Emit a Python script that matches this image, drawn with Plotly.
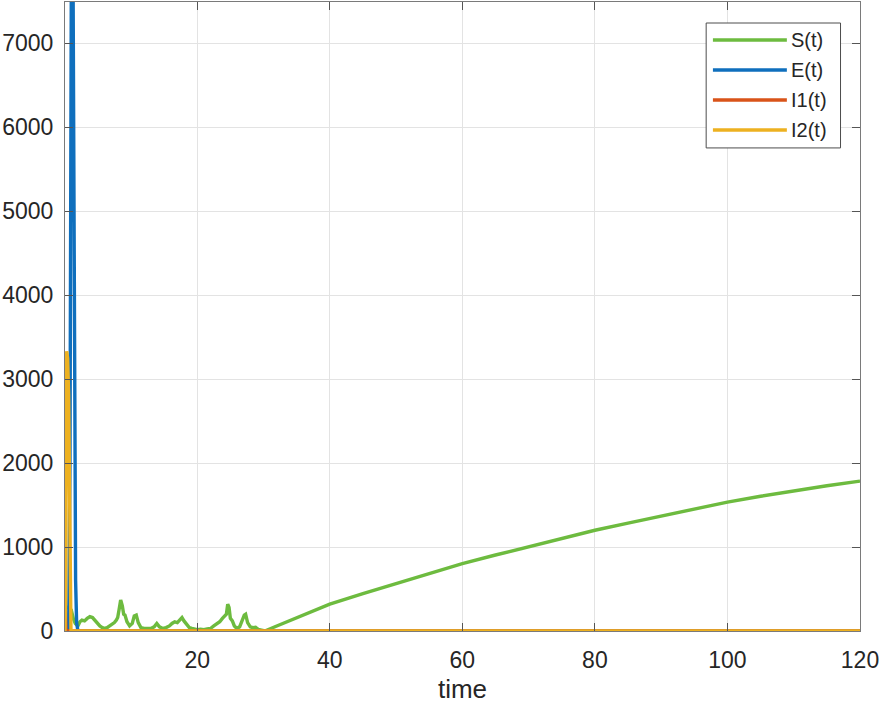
import plotly.graph_objects as go

# series names and colours (MATLAB-like palette)
names = ['S(t)', 'E(t)', 'I1(t)', 'I2(t)']
colors = ['#6dbb3f', '#0f6fbd', '#d95319', '#edb120']

# S(t): noisy phase up to t~30, then smooth growth
s_t = [0.05, 0.5, 1.0, 1.3, 1.6, 2.0, 2.3, 2.6, 3.0, 3.4, 3.8, 4.2, 4.6, 5.0, 5.3,
       5.7, 6.0, 6.4, 6.8, 7.2, 7.5, 7.8, 8.0, 8.2, 8.45, 8.7, 8.9, 9.1, 9.4, 9.8,
       10.2, 10.5, 10.8, 11.1, 11.5, 12.0, 12.5, 13.0, 13.5, 13.9, 14.3, 14.8, 15.3,
       15.8, 16.2, 16.6, 17.0, 17.4, 17.7, 18.0, 18.4, 18.8, 19.2, 19.6, 20.0, 20.5,
       21.0, 21.5, 22.0, 22.5, 23.0, 23.4, 23.8, 24.1, 24.4, 24.6, 24.8, 25.0, 25.3,
       25.6, 26.0, 26.4, 26.8, 27.1, 27.3, 27.6, 28.0, 28.4, 28.8, 29.2, 29.7, 30.2,
       32, 35, 40, 45, 50, 55, 60, 65, 70, 75, 80, 85, 90, 95, 100, 105, 110, 115, 120]
s_val = [300, 280, 250, 150, 90, 60, 110, 130, 120, 150, 170, 160, 120, 90, 60,
         40, 30, 40, 60, 80, 100, 130, 160, 250, 370, 300, 200, 190, 110, 60,
         90, 180, 190, 100, 40, 30, 35, 30, 50, 90, 50, 30, 40,
         60, 90, 110, 100, 130, 160, 120, 80, 40, 30, 25, 15, 20,
         15, 25, 30, 60, 90, 110, 150, 170, 200, 320, 280, 150, 120,
         60, 30, 50, 120, 190, 200, 100, 50, 40, 45, 20, 10, 0,
         60, 160, 320, 445, 565, 685, 803, 905, 1005, 1100, 1200, 1285, 1370, 1455,
         1535, 1605, 1670, 1730, 1785]

# E(t): tall early spike (runs off the top), then zero
e_t = [0.05, 0.6, 0.8, 0.95, 1.05, 1.2, 1.35, 1.5, 1.65, 1.8, 2.0, 120]
e_val = [0, 0, 2000, 6300, 9000, 9000, 5200, 2000, 600, 100, 0, 0]

# I1(t): small spike right at the start
i1_t = [0.0, 0.05, 0.12, 0.2, 120]
i1_val = [0, 450, 200, 0, 0]

# I2(t): spike to ~3300, then zero
i2_t = [0.05, 0.15, 0.3, 0.45, 0.6, 0.75, 0.85, 0.95, 120]
i2_val = [0, 400, 3330, 3250, 2800, 1800, 500, 0, 0]

xs = [s_t, e_t, i1_t, i2_t]
ys = [s_val, e_val, i1_val, i2_val]

fig = go.Figure()
for name, col, x, y in zip(names, colors, xs, ys):
    fig.add_trace(go.Scatter(x=x, y=y, mode='lines', name=name,
                             line=dict(color=col, width=3.4), showlegend=False))

axis_common = dict(showgrid=True, gridcolor='#e3e3e3', gridwidth=1,
                   showline=True, linecolor='#7a7a7a', linewidth=1, mirror='ticks',
                   ticks='inside', ticklen=8, tickcolor='#555555', zeroline=False,
                   tickfont=dict(size=23, color='#262626'))

fig.update_xaxes(range=[0.05, 120], tickvals=[20, 40, 60, 80, 100, 120],
                 ticklabelstandoff=8,
                 title=dict(text='time', font=dict(size=26, color='#262626'), standoff=8),
                 **axis_common)
fig.update_yaxes(range=[0, 7490], tickvals=list(range(0, 8000, 1000)),
                 ticklabelstandoff=6, **axis_common)

# MATLAB-style legend box with long line samples
x0, x1 = 0.8065, 0.9755
fig.add_shape(type='rect', xref='paper', yref='paper', x0=x0, x1=x1, y0=0.768, y1=0.9666,
              line=dict(color='#4d4d4d', width=1), fillcolor='white', layer='above')
rows = [0.9396, 0.8919, 0.8442, 0.7965]
for name, col, ry in zip(names, colors, rows):
    fig.add_shape(type='line', xref='paper', yref='paper', x0=0.815, x1=0.908, y0=ry, y1=ry,
                  line=dict(color=col, width=3.4), layer='above')
    fig.add_annotation(xref='paper', yref='paper', x=0.911, y=ry, text=name, showarrow=False,
                       xanchor='left', yanchor='middle', font=dict(size=20, color='#262626'))

fig.update_layout(width=880, height=708, margin=dict(l=65, r=20, t=2, b=77),
                  plot_bgcolor='white', paper_bgcolor='white',
                  font=dict(family='Liberation Sans, Arial, sans-serif', color='#262626'))

fig.write_html("out.html", config={'displayModeBar': False},
               post_script="document.body.style.margin='0';")
